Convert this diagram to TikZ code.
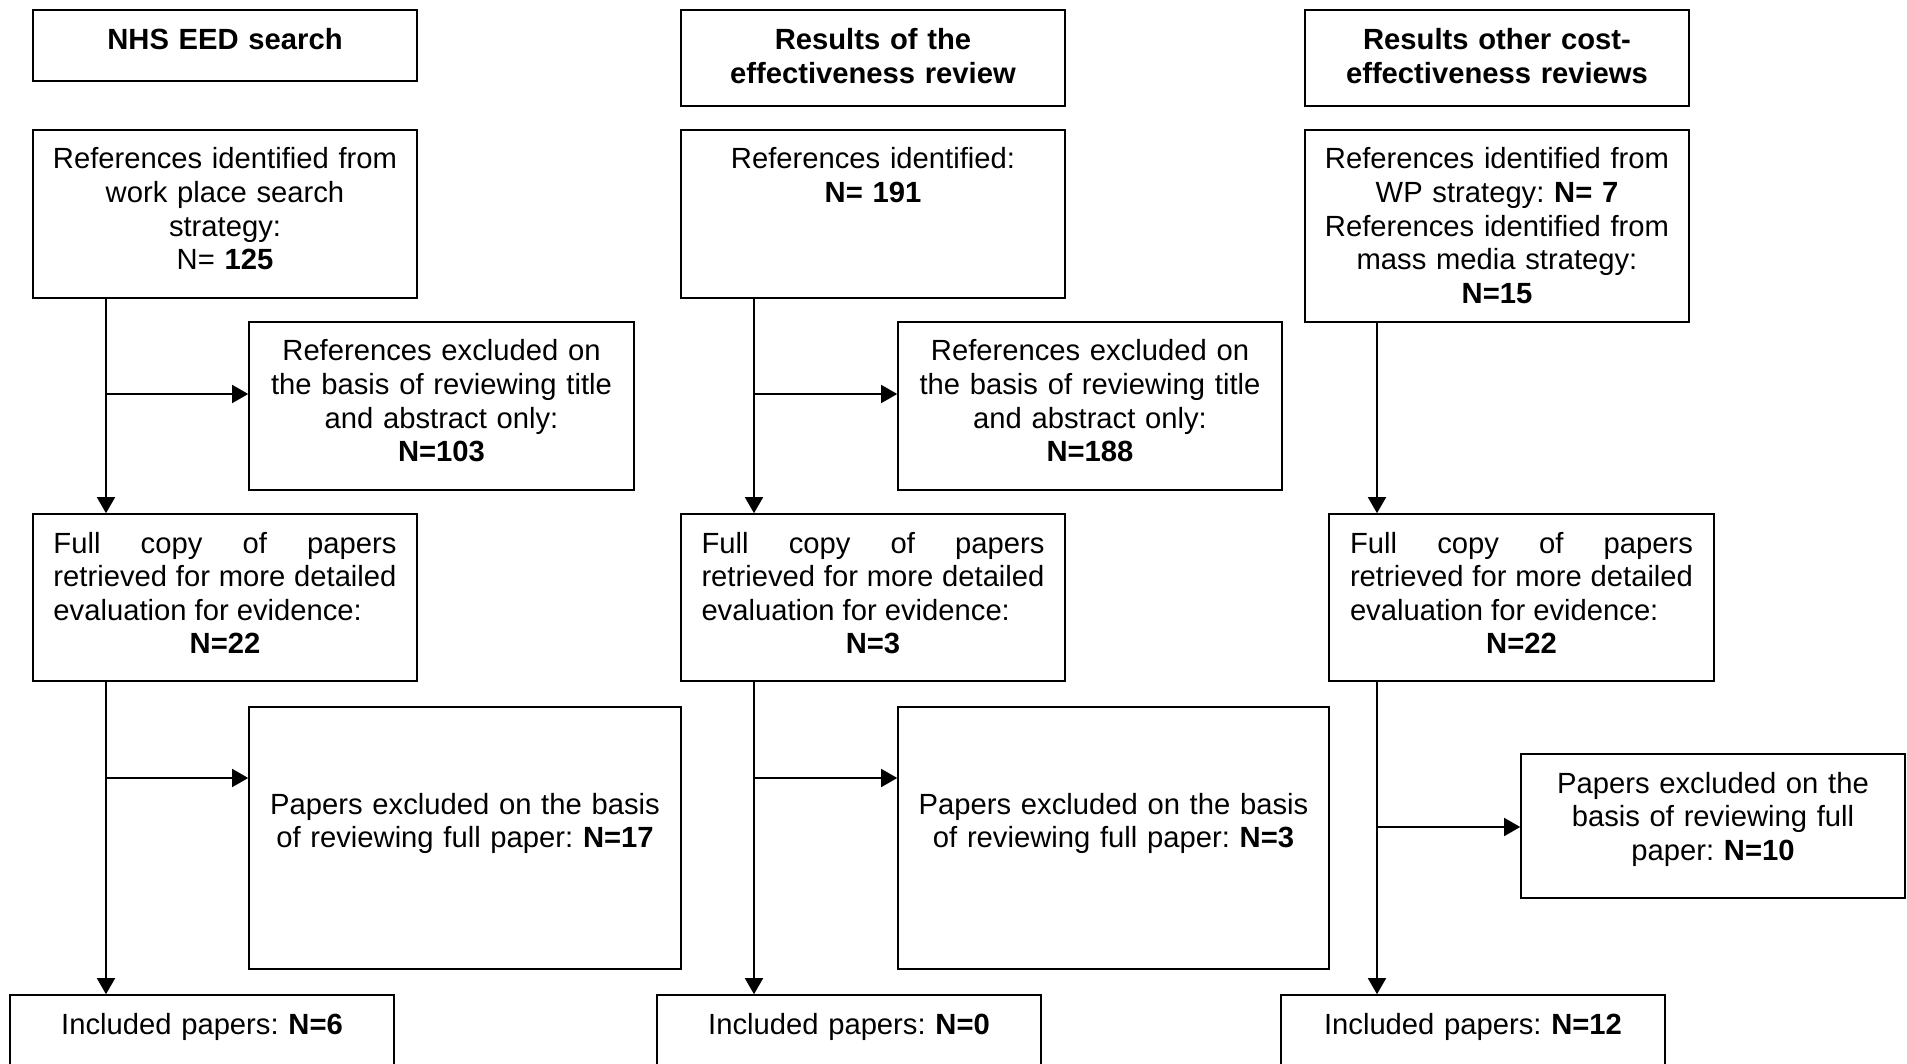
\documentclass[tikz,border=0pt]{standalone}
\usepackage{fontspec}
\setmainfont{Liberation Sans}
\usetikzlibrary{arrows.meta,fit}

\tikzset{
  box/.style={draw, line width=0.8pt, inner sep=0pt},
  txt/.style={font=\fontsize{14.6}{16.8}\selectfont\frenchspacing, inner sep=0pt, anchor=base,
    text width=#1, align=center,
    execute at begin node={\tolerance=10000\hyphenpenalty=10000}},
  txt/.default=200pt,
  just/.style={txt=171.5pt, align=justify},
  flow/.style={line width=0.8pt, -{Triangle[length=8pt,width=9pt]}}
}
\newcommand{\midline}[1]{\par\makebox[\linewidth]{\textbf{#1}}}

\begin{document}
\begin{tikzpicture}[x=0.5pt, y=-0.5pt]
    \useasboundingbox (0,0) rectangle (1907,1064);

    % NHS EED column
    \node[box, fit={(33,10) (417,81)}] (nhs) {};
    \node[txt] (nhs-t) at (225,50) {\textbf{NHS EED search}};
    \node[box, fit={(33,130) (417,298)}] (refs1) {};
    \node[txt] (refs1-t) at (225,169) {References identified from\\ work place search\\ strategy:\\ N= \textbf{125}};
    \node[box, fit={(249,322) (634,490)}] (excl1) {};
    \node[txt] (excl1-t) at (441.5,361) {References excluded on\\ the basis of reviewing title\\ and abstract only:\\ \textbf{N=103}};
    \node[box, fit={(33,514) (417,681)}] (full1) {};
    \node[just] (full1-t) at (225,553) {Full copy of papers retrieved for more detailed evaluation for evidence:\midline{N=22}};
    \node[box, fit={(249,707) (681,969)}] (pap1) {};
    \node[txt=210pt] (pap1-t) at (465,814) {Papers excluded on the basis\\ of reviewing full paper: \textbf{N=17}};
    \node[box, fit={(10,995) (394,1080)}] (inc1) {};
    \node[txt] (inc1-t) at (202,1034) {Included papers: \textbf{N=6}};

    % effectiveness review column
    \node[box, fit={(681,10) (1065,106)}] (eff) {};
    \node[txt] (eff-t) at (873,50) {\textbf{Results of the\\ effectiveness review}};
    \node[box, fit={(681,130) (1065,298)}] (refs2) {};
    \node[txt] (refs2-t) at (873,169) {References identified:\\ \textbf{N= 191}};
    \node[box, fit={(898,322) (1282,490)}] (excl2) {};
    \node[txt] (excl2-t) at (1090,361) {References excluded on\\ the basis of reviewing title\\ and abstract only:\\ \textbf{N=188}};
    \node[box, fit={(681,514) (1065,681)}] (full2) {};
    \node[just] (full2-t) at (873,553) {Full copy of papers retrieved for more detailed evaluation for evidence:\midline{N=3}};
    \node[box, fit={(898,707) (1329,969)}] (pap2) {};
    \node[txt=210pt] (pap2-t) at (1113.5,814) {Papers excluded on the basis\\ of reviewing full paper: \textbf{N=3}};
    \node[box, fit={(657,995) (1041,1080)}] (inc2) {};
    \node[txt] (inc2-t) at (849,1034) {Included papers: \textbf{N=0}};

    % other cost-effectiveness reviews column
    \node[box, fit={(1305,10) (1689,106)}] (oth) {};
    \node[txt] (oth-t) at (1497,50) {\textbf{Results other cost-\\ effectiveness reviews}};
    \node[box, fit={(1305,130) (1689,322)}] (refs3) {};
    \node[txt] (refs3-t) at (1497,169) {References identified from\\ WP strategy: \textbf{N= 7}\\ References identified from\\ mass media strategy:\\ \textbf{N=15}};
    \node[box, fit={(1329,514) (1714,681)}] (full3) {};
    \node[just] (full3-t) at (1521.5,553) {Full copy of papers retrieved for more detailed evaluation for evidence:\midline{N=22}};
    \node[box, fit={(1521,754) (1905,898)}] (pap3) {};
    \node[txt] (pap3-t) at (1713,793) {Papers excluded on the\\ basis of reviewing full\\ paper: \textbf{N=10}};
    \node[box, fit={(1281,995) (1665,1080)}] (inc3) {};
    \node[txt] (inc3-t) at (1473,1034) {Included papers: \textbf{N=12}};

    % connectors
    \foreach \c/\x in {1/106,2/754} {
        \coordinate (up\c) at (\x,394);
        \coordinate (low\c) at (\x,778);
        \draw[flow] (refs\c.south -| up\c) -- (full\c.north -| up\c);
        \draw[flow] (up\c) -- (up\c -| excl\c.west);
        \draw[flow] (full\c.south -| low\c) -- (inc\c.north -| low\c);
        \draw[flow] (low\c) -- (low\c -| pap\c.west);
    }
    \coordinate (low3) at (1377,827);
    \draw[flow] (refs3.south -| low3) -- (full3.north -| low3);
    \draw[flow] (full3.south -| low3) -- (inc3.north -| low3);
    \draw[flow] (low3) -- (low3 -| pap3.west);
\end{tikzpicture}
\end{document}
